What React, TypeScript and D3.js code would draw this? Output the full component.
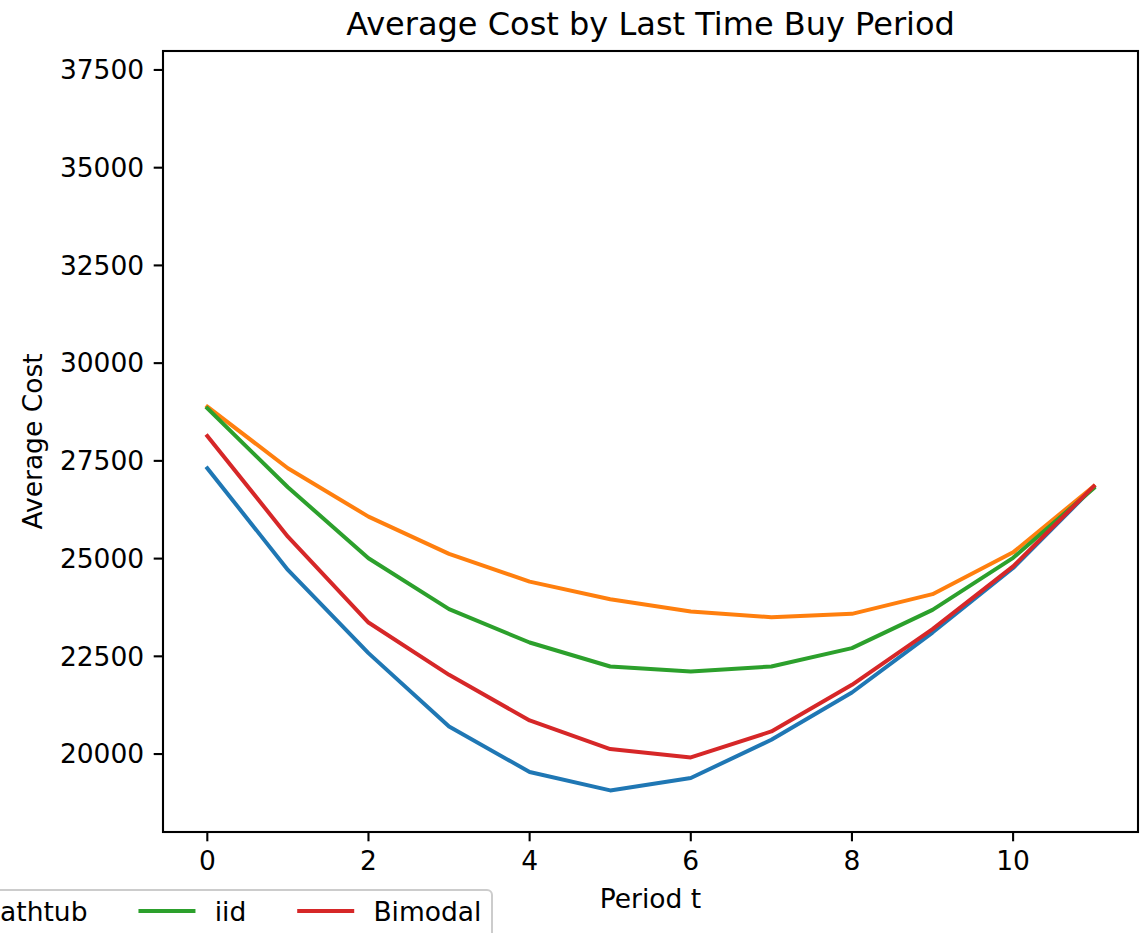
import React from "react";
import * as d3 from "d3";

// Periods on the x axis
const periods = [0, 1, 2, 3, 4, 5, 6, 7, 8, 9, 10, 11];

// Average cost per last-time-buy period for each demand model
const uniformCost = [27311, 24711, 22582, 20706, 19540, 19070, 19387, 20366, 21575, 23108, 24760, 26830];
const bathtubCost = [28886, 27311, 26074, 25120, 24412, 23962, 23645, 23502, 23586, 24090, 25160, 26850];
const iidCost = [28845, 26825, 25010, 23707, 22853, 22239, 22111, 22239, 22710, 23689, 25020, 26800];
const bimodalCost = [28136, 25562, 23364, 22027, 20859, 20128, 19913, 20578, 21771, 23195, 24800, 26850];

const seriesNames = ["Uniform", "Bathtub", "iid", "Bimodal"];
const seriesColors = ["#1f77b4", "#ff7f0e", "#2ca02c", "#d62728"];
const seriesValues = [uniformCost, bathtubCost, iidCost, bimodalCost];

const xTicks = [0, 2, 4, 6, 8, 10];
const yTicks = [20000, 22500, 25000, 27500, 30000, 32500, 35000, 37500];

const W = 1144;
const H = 933;
const FONT = "DejaVu Sans, sans-serif";
const FS = 26.5;
const TITLE_FS = 32;

const plot = { left: 163, right: 1138, top: 51, bottom: 832 };

function measure(text: string, size: number): number {
  if (typeof document === "undefined") return text.length * size * 0.6;
  const c = document.createElement("canvas");
  const ctx = c.getContext("2d");
  if (!ctx) return text.length * size * 0.6;
  ctx.font = `${size}px "DejaVu Sans"`;
  return ctx.measureText(text).width;
}

export default function App() {
  const x = d3.scaleLinear().domain([-0.55, 11.55]).range([plot.left, plot.right]);
  const y = d3.scaleLinear().domain([18006, 37985]).range([plot.bottom, plot.top]);

  const line = d3
    .line<number>()
    .x((_, i) => x(periods[i]))
    .y((d) => y(d));

  const tickLen = 9.3;
  const spineW = 2.1;

  // Legend laid out in a single row, anchored at its right edge
  const legendRight = 492;
  const legendTop = 890;
  const handleLen = 2 * FS;
  const handlePad = 0.8 * FS;
  const colSpacing = 2 * FS;
  const borderPad = 0.4 * FS;
  const entries: { name: string; color: string; hx: number; tx: number }[] = [];
  let cursor = legendRight - borderPad;
  for (let i = seriesNames.length - 1; i >= 0; i--) {
    const tw = measure(seriesNames[i], FS);
    const tx = cursor - tw;
    const hx = tx - handlePad - handleLen;
    entries.unshift({ name: seriesNames[i], color: seriesColors[i], hx, tx });
    cursor = hx - colSpacing;
  }
  const legendLeft = cursor + colSpacing - borderPad;
  const legendMidY = 911;

  return (
    <svg
      width={W}
      height={H}
      style={{ position: "absolute", left: 0, top: 0, background: "#fff" }}
      fontFamily={FONT}
    >
      <rect x={0} y={0} width={W} height={H} fill="#fff" />
      <defs>
        <clipPath id="plotClip">
          <rect x={plot.left} y={plot.top} width={plot.right - plot.left} height={plot.bottom - plot.top} />
        </clipPath>
      </defs>

      {/* series lines */}
      <g clipPath="url(#plotClip)">
        {seriesValues.map((vals, i) => (
          <path
            key={seriesNames[i]}
            d={line(vals) || ""}
            fill="none"
            stroke={seriesColors[i]}
            strokeWidth={4}
            strokeLinejoin="round"
            strokeLinecap="square"
          />
        ))}
      </g>

      {/* frame */}
      <rect
        x={plot.left}
        y={plot.top}
        width={plot.right - plot.left}
        height={plot.bottom - plot.top}
        fill="none"
        stroke="#000"
        strokeWidth={spineW}
      />

      {/* x axis ticks */}
      {xTicks.map((t) => (
        <g key={`x${t}`}>
          <line x1={x(t)} x2={x(t)} y1={plot.bottom} y2={plot.bottom + tickLen} stroke="#000" strokeWidth={spineW} />
          <text x={x(t)} y={plot.bottom + 38} fontSize={FS} textAnchor="middle" fill="#000">
            {t}
          </text>
        </g>
      ))}

      {/* y axis ticks */}
      {yTicks.map((t) => (
        <g key={`y${t}`}>
          <line x1={plot.left - tickLen} x2={plot.left} y1={y(t)} y2={y(t)} stroke="#000" strokeWidth={spineW} />
          <text
            x={plot.left - tickLen - 9.5}
            y={y(t)}
            dy="0.35em"
            fontSize={FS}
            textAnchor="end"
            fill="#000"
          >
            {t}
          </text>
        </g>
      ))}

      {/* title and axis labels */}
      <text x={(plot.left + plot.right) / 2} y={35} fontSize={TITLE_FS} textAnchor="middle" fill="#000">
        Average Cost by Last Time Buy Period
      </text>
      <text x={(plot.left + plot.right) / 2} y={908} fontSize={FS} textAnchor="middle" fill="#000">
        Period t
      </text>
      <text
        transform={`translate(42, ${(plot.top + plot.bottom) / 2}) rotate(-90)`}
        fontSize={FS}
        textAnchor="middle"
        fill="#000"
      >
        Average Cost
      </text>

      {/* legend */}
      <g>
        <rect
          x={legendLeft}
          y={legendTop}
          width={legendRight - legendLeft}
          height={56}
          rx={5}
          ry={5}
          fill="#fff"
          fillOpacity={0.8}
          stroke="#cccccc"
          strokeWidth={2}
        />
        {entries.map((e) => (
          <g key={e.name}>
            <line
              x1={e.hx}
              x2={e.hx + handleLen}
              y1={legendMidY}
              y2={legendMidY}
              stroke={e.color}
              strokeWidth={4}
              strokeLinecap="square"
            />
            <text x={e.tx} y={921} fontSize={FS} fill="#000">
              {e.name}
            </text>
          </g>
        ))}
      </g>
    </svg>
  );
}
